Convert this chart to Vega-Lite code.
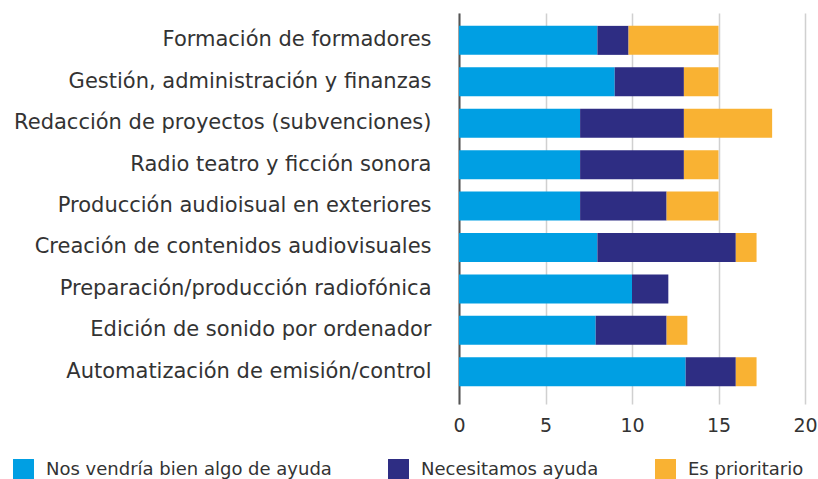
{
  "$schema": "https://vega.github.io/schema/vega-lite/v6.json",
  "width": 346,
  "height": 391,
  "autosize": {"type": "none"},
  "padding": {"left": 459, "top": 13, "right": 13, "bottom": 75},
  "background": "white",
  "config": {"view": {"stroke": null}, "font": "DejaVu Sans"},
  "data": {
    "values": [
      {"cat": "Formación de formadores", "serie": "Nos vendría bien algo de ayuda", "o": 1, "v": 8},
      {"cat": "Formación de formadores", "serie": "Necesitamos ayuda", "o": 2, "v": 1.8},
      {"cat": "Formación de formadores", "serie": "Es prioritario", "o": 3, "v": 5.2},
      {"cat": "Gestión, administración y finanzas", "serie": "Nos vendría bien algo de ayuda", "o": 1, "v": 9},
      {"cat": "Gestión, administración y finanzas", "serie": "Necesitamos ayuda", "o": 2, "v": 4},
      {"cat": "Gestión, administración y finanzas", "serie": "Es prioritario", "o": 3, "v": 2},
      {"cat": "Redacción de proyectos (subvenciones)", "serie": "Nos vendría bien algo de ayuda", "o": 1, "v": 7},
      {"cat": "Redacción de proyectos (subvenciones)", "serie": "Necesitamos ayuda", "o": 2, "v": 6},
      {"cat": "Redacción de proyectos (subvenciones)", "serie": "Es prioritario", "o": 3, "v": 5.1},
      {"cat": "Radio teatro y ficción sonora", "serie": "Nos vendría bien algo de ayuda", "o": 1, "v": 7},
      {"cat": "Radio teatro y ficción sonora", "serie": "Necesitamos ayuda", "o": 2, "v": 6},
      {"cat": "Radio teatro y ficción sonora", "serie": "Es prioritario", "o": 3, "v": 2},
      {"cat": "Producción audioisual en exteriores", "serie": "Nos vendría bien algo de ayuda", "o": 1, "v": 7},
      {"cat": "Producción audioisual en exteriores", "serie": "Necesitamos ayuda", "o": 2, "v": 5},
      {"cat": "Producción audioisual en exteriores", "serie": "Es prioritario", "o": 3, "v": 3},
      {"cat": "Creación de contenidos audiovisuales", "serie": "Nos vendría bien algo de ayuda", "o": 1, "v": 8},
      {"cat": "Creación de contenidos audiovisuales", "serie": "Necesitamos ayuda", "o": 2, "v": 8},
      {"cat": "Creación de contenidos audiovisuales", "serie": "Es prioritario", "o": 3, "v": 1.2},
      {"cat": "Preparación/producción radiofónica", "serie": "Nos vendría bien algo de ayuda", "o": 1, "v": 10},
      {"cat": "Preparación/producción radiofónica", "serie": "Necesitamos ayuda", "o": 2, "v": 2.1},
      {"cat": "Edición de sonido por ordenador", "serie": "Nos vendría bien algo de ayuda", "o": 1, "v": 7.9},
      {"cat": "Edición de sonido por ordenador", "serie": "Necesitamos ayuda", "o": 2, "v": 4.1},
      {"cat": "Edición de sonido por ordenador", "serie": "Es prioritario", "o": 3, "v": 1.2},
      {"cat": "Automatización de emisión/control", "serie": "Nos vendría bien algo de ayuda", "o": 1, "v": 13.1},
      {"cat": "Automatización de emisión/control", "serie": "Necesitamos ayuda", "o": 2, "v": 2.9},
      {"cat": "Automatización de emisión/control", "serie": "Es prioritario", "o": 3, "v": 1.2}
    ]
  },
  "mark": {"type": "bar"},
  "encoding": {
    "y": {
      "field": "cat",
      "type": "nominal",
      "sort": null,
      "title": null,
      "scale": {"paddingInner": 0.3, "paddingOuter": 0.37, "align": 0.42},
      "axis": {
        "ticks": false,
        "domainColor": "#555555",
        "domainWidth": 2,
        "labelFontSize": 21,
        "labelColor": "#333333",
        "labelPadding": 28,
        "labelLimit": 500,
        "grid": false
      }
    },
    "x": {
      "field": "v",
      "type": "quantitative",
      "stack": "zero",
      "title": null,
      "scale": {"domain": [0, 20], "nice": false},
      "axis": {
        "values": [0, 5, 10, 15, 20],
        "domain": false,
        "ticks": false,
        "gridColor": "#d0d0d0",
        "gridWidth": 1.5,
        "labelFontSize": 19,
        "labelColor": "#333333",
        "labelPadding": 12,
        "labelFlush": false
      }
    },
    "color": {
      "field": "serie",
      "type": "nominal",
      "scale": {
        "domain": ["Nos vendría bien algo de ayuda", "Necesitamos ayuda", "Es prioritario"],
        "range": ["#009FE3", "#2E2D83", "#F9B233"]
      },
      "legend": {
        "orient": "none",
        "legendX": -446,
        "legendY": 446,
        "direction": "horizontal",
        "title": null,
        "symbolType": "square",
        "symbolSize": 440,
        "symbolStrokeWidth": 0,
        "labelFontSize": 18,
        "labelColor": "#333333",
        "labelOffset": 12,
        "columnPadding": 56,
        "labelLimit": 400
      }
    },
    "order": {"field": "o", "type": "quantitative"}
  }
}
